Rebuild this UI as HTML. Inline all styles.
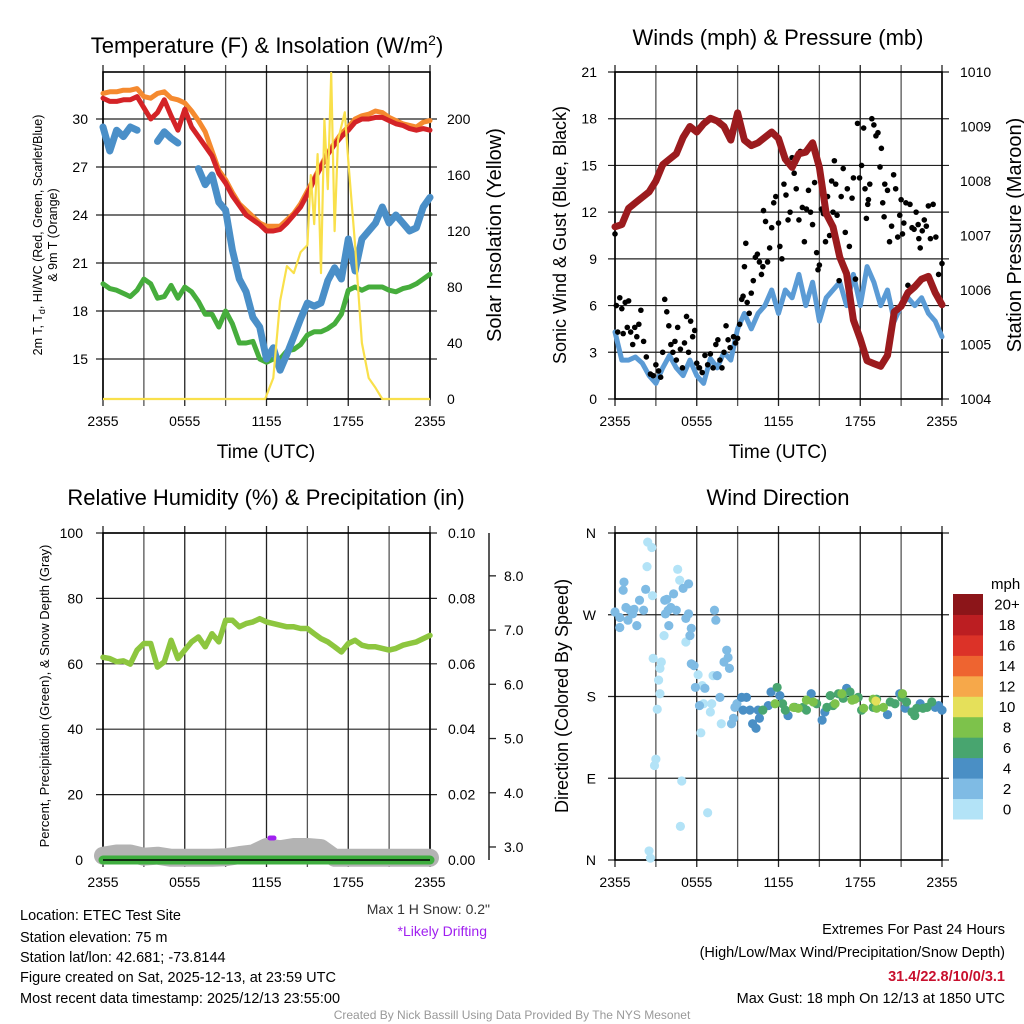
<!DOCTYPE html>
<html><head><meta charset="utf-8"><style>
html,body{margin:0;padding:0;background:#fff;}
svg{display:block;font-family:"Liberation Sans",sans-serif;}
</style></head><body>
<svg id="chart" width="1024" height="1024" viewBox="0 0 1024 1024" xmlns="http://www.w3.org/2000/svg">
<rect width="1024" height="1024" fill="#fff"/>
<g id="layers"></g>
<text x="267" y="53" font-size="22" text-anchor="middle">Temperature (F) &amp; Insolation (W/m<tspan dy="-8" font-size="14">2</tspan><tspan dy="8">)</tspan></text>
<text x="778" y="45" font-size="22" text-anchor="middle">Winds (mph) &amp; Pressure (mb)</text>
<text x="266" y="505" font-size="22" text-anchor="middle">Relative Humidity (%) &amp; Precipitation (in)</text>
<text x="778" y="505" font-size="22" text-anchor="middle">Wind Direction</text>
<text x="266" y="458" font-size="19" text-anchor="middle">Time (UTC)</text>
<text x="778" y="458" font-size="19" text-anchor="middle">Time (UTC)</text>
<text transform="translate(42,235) rotate(-90)" font-size="12.5" text-anchor="middle">2m T, T<tspan dy="3" font-size="9">d</tspan><tspan dy="-3">, HI/WC (Red, Green, Scarlet/Blue)</tspan></text>
<text transform="translate(57,235) rotate(-90)" font-size="12.5" text-anchor="middle">&amp; 9m T (Orange)</text>
<text transform="translate(501,235) rotate(-90)" font-size="20" text-anchor="middle">Solar Insolation (Yellow)</text>
<text transform="translate(566,235) rotate(-90)" font-size="18" text-anchor="middle">Sonic Wind &amp; Gust (Blue, Black)</text>
<text transform="translate(1021,235) rotate(-90)" font-size="20" text-anchor="middle">Station Pressure (Maroon)</text>
<text transform="translate(49,696) rotate(-90)" font-size="13" text-anchor="middle">Percent, Precipitation (Green), &amp; Snow Depth (Gray)</text>
<text transform="translate(568,696) rotate(-90)" font-size="18" text-anchor="middle">Direction (Colored By Speed)</text>
<text x="490" y="914" font-size="14" text-anchor="end" fill="#333">Max 1 H Snow: 0.2"</text>
<text x="487" y="936" font-size="14" text-anchor="end" fill="#a020f0">*Likely Drifting</text>
<g font-size="14.5">
<text x="20" y="920">Location: ETEC Test Site</text>
<text x="20" y="942">Station elevation: 75 m</text>
<text x="20" y="962">Station lat/lon: 42.681; -73.8144</text>
<text x="20" y="982">Figure created on Sat, 2025-12-13, at 23:59 UTC</text>
<text x="20" y="1003">Most recent data timestamp: 2025/12/13 23:55:00</text>
</g>
<g font-size="14.5" text-anchor="end">
<text x="1005" y="934">Extremes For Past 24 Hours</text>
<text x="1005" y="957">(High/Low/Max Wind/Precipitation/Snow Depth)</text>
<text x="1005" y="981" fill="#c8102e" font-weight="bold">31.4/22.8/10/0/3.1</text>
<text x="1005" y="1003">Max Gust: 18 mph On 12/13 at 1850 UTC</text>
</g>
<text x="512" y="1019" font-size="12" text-anchor="middle" fill="#999">Created By Nick Bassill Using Data Provided By The NYS Mesonet</text>
</svg>
<script>
const timeLabels = ["2355","0555","1155","1755","2355"];
const halfHours = [0,0.5,1,1.5,2,2.5,3,3.5,4,4.5,5,5.5,6,6.5,7,7.5,8,8.5,9,9.5,10,10.5,11,11.5,12,12.5,13,13.5,14,14.5,15,15.5,16,16.5,17,17.5,18,18.5,19,19.5,20,20.5,21,21.5,22,22.5,23,23.5,24];
const temp2m = [31.3,31.1,31.1,31.2,31.2,31.4,30.7,30.0,30.4,31.2,30.2,29.3,30.6,29.5,28.9,28.3,27.7,26.6,26.0,25.2,24.6,24.0,23.7,23.4,23.0,23.0,23.1,23.5,24.0,24.5,25.3,26.2,27.0,27.8,28.4,28.9,29.3,29.8,30.0,30.0,30.1,30.1,29.9,29.7,29.6,29.4,29.3,29.4,29.3];
const temp9m = [31.6,31.7,31.7,31.8,31.8,31.9,31.4,31.3,31.6,31.7,31.3,31.2,31.0,30.5,29.9,29.2,28.0,26.8,26.2,25.4,24.7,24.3,23.9,23.5,23.3,23.3,23.3,23.7,24.1,24.7,25.5,26.3,27.1,27.9,28.5,29.1,29.5,30.0,30.2,30.3,30.5,30.4,30.1,29.9,29.7,29.6,29.5,29.8,29.9];
const dewpoint = [29.5,28.0,29.3,28.9,29.5,29.3,null,null,28.6,29.2,28.8,28.5,null,null,26.9,25.9,26.5,24.8,24.3,21.8,20.0,19.2,17.6,17.0,15.0,15.7,14.3,15.3,16.4,17.5,18.5,18.3,18.5,19.9,20.7,20.0,22.5,20.5,22.5,23.0,23.5,24.5,23.5,24.0,23.5,23.0,23.2,24.5,25.1];
const windChill = [19.7,19.4,19.3,19.1,18.9,19.3,20.0,19.7,18.8,18.9,19.6,18.8,19.5,19.2,18.6,17.8,17.8,17.0,18.0,17.2,16.0,16.0,16.1,15.0,14.8,15.0,15.0,15.5,15.6,15.9,16.5,16.7,16.7,16.9,17.2,17.8,19.3,19.5,19.3,19.5,19.5,19.5,19.3,19.2,19.4,19.5,19.7,20.0,20.3];
const insolHours = [0,11.9,12.5,13,13.5,14,14.5,15,15.25,15.5,15.75,16,16.25,16.5,16.75,17,17.25,17.5,17.75,18,18.5,19,19.5,20,20.5,24];
const insolValues = [0,0,15,70,95,90,105,110,160,125,175,90,200,150,233,120,185,195,205,170,110,40,15,8,0,0];
const windSpeed = [4.3,2.5,2.5,2.7,2.3,1.5,1.0,2.0,2.8,2.0,1.5,2.5,1.5,1.0,2.6,2.0,3.0,2.5,4.5,5.5,4.5,5.5,6.0,7.0,5.5,7.0,6.5,8.0,6.0,7.5,5.0,6.5,7.0,7.5,6.0,8.0,6.0,8.5,7.5,6.0,7.0,5.0,6.0,6.5,6.0,6.5,5.5,5.0,4.0];
const pressure = [1007.16,1007.2,1007.5,1007.6,1007.7,1007.8,1008.0,1008.3,1008.4,1008.5,1008.8,1009.0,1008.9,1009.05,1009.15,1009.1,1009.0,1008.75,1009.25,1008.75,1008.65,1008.7,1008.8,1008.9,1008.78,1008.4,1008.25,1008.5,1008.53,1008.7,1008.25,1007.4,1007.16,1006.6,1006.3,1005.45,1005.1,1004.7,1004.65,1004.6,1004.8,1005.6,1005.7,1005.95,1006.06,1006.2,1006.25,1005.95,1005.73];
const gustHours = [0,0.1,0.2,0.35,0.5,0.6,0.75,0.9,1.0,1.15,1.3,1.45,1.6,1.75,1.9,2.1,2.3,2.6,2.8,3.0,3.2,3.35,3.5,3.65,3.8,3.95,4.1,4.25,4.4,4.5,4.6,4.8,4.95,5.1,5.25,5.4,5.55,5.7,5.85,6.0,6.2,6.4,6.6,6.8,7.0,7.2,7.4,7.55,7.7,7.85,8.0,8.15,8.3,8.45,8.7,8.85,9.0,9.15,9.3,9.4,9.5,9.6,9.7,9.85,10.0,10.15,10.3,10.45,10.6,10.75,10.85,10.9,11.05,11.2,11.35,11.5,11.65,11.8,12.0,12.1,12.25,12.4,12.55,12.7,12.85,13.0,13.15,13.3,13.5,13.6,13.75,13.9,14.05,14.2,14.35,14.5,14.65,14.8,14.9,15.0,15.15,15.3,15.45,15.6,15.75,15.9,16.0,16.1,16.2,16.3,16.45,16.6,16.75,16.9,17.05,17.2,17.4,17.5,17.65,17.8,17.95,18.1,18.25,18.35,18.45,18.55,18.6,18.7,18.85,19.0,19.15,19.3,19.45,19.55,19.65,19.75,19.8,20.0,20.15,20.3,20.45,20.6,20.75,20.9,21.0,21.1,21.2,21.35,21.5,21.65,21.8,21.95,22.1,22.25,22.3,22.4,22.55,22.7,22.85,23.0,23.15,23.35,23.55,23.75,24.0];
const gustValues = [10.6,6.0,4.3,6.5,5.8,4.2,6.2,4.6,6.3,4.3,3.5,4.6,4.0,4.8,5.7,3.7,2.7,1.6,1.5,2.2,1.8,1.4,3.0,6.4,5.6,4.7,3.5,3.0,3.7,2.5,4.6,3.2,2.0,3.6,5.3,3.0,5.0,4.0,4.4,2.3,2.0,1.7,2.8,2.2,2.9,2.0,3.5,3.8,2.5,2.0,3.0,4.7,3.8,3.3,4.0,3.6,3.9,4.8,6.4,6.6,8.5,10.0,6.2,5.5,6.8,7.6,9.1,9.3,8.8,8.0,8.5,12.1,11.4,8.8,9.7,11.0,12.6,13.0,11.3,9.8,9.0,13.8,13.1,11.5,12.0,15.5,14.5,13.5,11.5,15.9,12.3,10.1,12.2,13.4,12.0,11.2,13.9,9.4,8.3,8.6,12.2,11.9,10.1,13.0,10.5,14.0,12.0,15.3,13.8,11.8,7.6,13.0,14.8,10.7,13.5,9.8,12.9,14.2,7.7,17.7,14.2,15.0,17.4,13.5,11.6,12.5,12.8,13.8,18.0,17.6,16.9,17.1,14.9,16.1,12.6,11.7,13.8,13.4,10.1,11.1,14.4,13.5,10.4,11.8,12.8,10.6,11.3,12.6,7.3,12.5,11.0,10.9,12.0,11.2,10.3,9.7,10.8,11.5,11.1,12.4,10.3,12.5,10.4,8.0,8.7,9.1,6.9];
const humidity = [62,61.6,60.6,60.9,59.9,64.2,66.2,66.2,59,60.6,67.2,61.6,64.2,66.7,68.2,65.2,69.2,66.7,73.3,73.3,71.3,72.3,72.8,73.8,72.8,72.3,71.8,71.3,71.3,70.8,70.8,69.2,67.7,66.7,65.2,63.6,66.2,67.2,65.7,65.2,65.2,64.7,64.2,64.7,65.7,66.2,66.7,67.7,68.7];
const hours = [0,1,2,3,4,5,6,7,8,9,10,11,12,13,14,15,16,17,18,19,20,21,22,23,24];
const snowDepth = [2.84,2.88,2.88,2.82,2.84,2.8,2.8,2.8,2.8,2.81,2.85,2.88,3.0,2.96,3.0,3.0,2.98,2.8,2.8,2.8,2.8,2.8,2.8,2.8,2.8];
const precip = [0,0,0,0,0,0,0,0,0,0,0,0,0,0,0,0,0,0,0,0,0,0,0,0,0];
const dirHours = [0,0.35,0.66,0.6,0.8,1.1,1.4,1.8,2.1,2.25,0.35,1.6,0.95,1.3, 2.4,2.7,2.35,2.75,2.8,3.4,3.3,3.2,3.3,3.1,3.0,2.9,2.5,2.6,4.9,4.8,6.8,6.3,4.6,4.75,3.6,5.2,7.0,7.1,6.5,6.4,6.1,7.8,7.2, 3.65,3.8,3.9,4.1,4.3,4.5,3.7,3.95,5.0,5.4,5.2,5.4,5.6,5.5,5.6,5.8,5.9,6.2,6.6,7.7,7.3,7.4,7.5,8.2,8.3,8.0,8.4,8.55,8.7,8.8,8.95, 9.3,9.4,9.65,9.9,10.1,10.35,10.5,10.6,11.25,11.45,12.1,12.7,14.4,15.2,15.4,17.0,20.0,20.9,21.3,22.4,23.75,24.0,23.5, 10.85,11.9,12.3,12.5,13.2,13.8,14.05,14.8,15.55,15.8,16.0,16.4,16.75,17.25,17.85,18.1,18.95,19.2,20.2,20.55,21.05,21.4,21.8,22.0,22.15,22.6,22.9,23.25, 11.75,13.1,13.45,14.05,14.55,16.15,16.65,17.4,17.6,18.25,19.2,19.7,21.1,18.95, 19.15];
const dirDegrees = [273,267,306,297,278,275,276,286,275,298,256,258,264,271, 350,344,323,291,222,218,211,198,183,166,111,104,10,2,87,37,52,140,320,308,247,240,163,172,172,192,204,150,203, 286,287,275,278,293,275,271,258,299,304,266,271,255,247,216,214,190,170,189,179,275,264,203,231,223,218,211,150,156,168,172, 179,165,179,165,150,145,165,156,170,185,181,159,183,154,163,189,160,183,167,172,170,165,168, 165,190,172,165,168,168,165,172,168,181,170,183,178,185,179,165,168,177,174,172,179,174,163,159,167,167,168,174, 172,168,167,176,174,172,183,176,177,167,167,168,183,177, 175];
const dirSpeeds = [3,3,3,3,3,3,3,3,3,3,3,3,3,3, 1,1,1,1,1,1,1,1,1,1,1,1,1,1,1,1,1,1,1,1,1,1,1,1,1,1,1,1,1, 3,3,3,3,3,3,3,3,3,3,3,3,3,3,3,3,3,3,3,3,3,3,3,3,3,3,3,3,3,3,3, 5,5,5,5,5,5,5,5,5,5,5,5,5,5,5,5,5,5,5,5,5,5,5, 7,7,7,7,7,7,7,7,7,7,7,7,7,7,7,7,7,7,7,7,7,7,7,7,7,7,7,7, 9,9,9,9,9,9,9,9,9,9,9,9,9,9, 11];
const speedBinLabels = ["0","2","4","6","8","10","12","14","16","18","20+"];
const speedBinColors = ["#b3e3f7","#7fbbe4","#4a8fc5","#48a56f","#7dc24b","#e5e05a","#f6a84a","#ee6430","#dc3228","#bc1e22","#8c1519"];

const NS = "http://www.w3.org/2000/svg";
const root = document.getElementById("layers");
function mk(tag, attrs, parent){
  const e = document.createElementNS(NS, tag);
  for (const k in attrs) e.setAttribute(k, attrs[k]);
  (parent||root).appendChild(e);
  return e;
}
function txt(str, x, y, size, anchor, parent){
  const t = mk("text", {x:x, y:y, "font-size":size, "text-anchor":anchor}, parent);
  t.textContent = str;
  return t;
}
function panel(x0, x1, y0, y1){
  return {
    x0:x0, x1:x1, y0:y0, y1:y1,
    xs: h => x0 + (h/24)*(x1-x0),
    ys: (v, lo, hi) => y1 - (v-lo)/(hi-lo)*(y1-y0)
  };
}
function linePath(p, xsArr, ysArr, lo, hi){
  let d = "", pen = false;
  for (let i=0;i<xsArr.length;i++){
    const v = ysArr[i];
    if (v===null){ pen=false; continue; }
    d += (pen?"L":"M") + p.xs(xsArr[i]).toFixed(1) + "," + p.ys(v,lo,hi).toFixed(1);
    pen = true;
  }
  return d;
}
function frame(p, hLines, name){
  const g = mk("g", {});
  
  
  for (let i=0;i<=8;i++){
    const x = p.x0 + i*(p.x1-p.x0)/8;
    const l = mk("line", {x1:x, x2:x, y1:p.y0-7, y2:p.y1+7, stroke:(i%2?"#555":"#222"), "stroke-width":1.3}, g);
    
    
  }
  hLines.forEach(y => {
    const l = mk("line", {x1:p.x0-7, x2:p.x1+7, y1:y, y2:y, stroke:"#222", "stroke-width":1.2}, g);
    
    
  });
  const b = mk("rect", {x:p.x0, y:p.y0, width:p.x1-p.x0, height:p.y1-p.y0, fill:"none", stroke:"#000", "stroke-width":1.6}, g);
  
  
  const xl = mk("g", {}, g);
  
  
  timeLabels.forEach((s,i) => {
    const t = txt(s, p.x0 + i*(p.x1-p.x0)/4, p.y1+27, 14, "middle", xl);
    
    
  });
}
function tickSet(p, labels, values, lo, hi, x, anchor, name){
  const g = mk("g", {});
  
  
  labels.forEach((s,i) => {
    const y = p.ys(values[i], lo, hi);
    const t = txt(s, x, y+5, 14, anchor, g);
    
    
  });
  return g;
}

const p1 = panel(103, 430, 72, 399);
const T_LO = 12.5, T_HI = 32.94, S_LO = 0, S_HI = 233.7;
const tempTicks = [15,18,21,24,27,30];
frame(p1, tempTicks.map(v => p1.ys(v,T_LO,T_HI)), "temperature-panel");
tickSet(p1, tempTicks.map(String), tempTicks, T_LO, T_HI, 88, "end", "temperature-y-tick-labels");
const insTicks = [0,40,80,120,160,200];
tickSet(p1, insTicks.map(String), insTicks, S_LO, S_HI, 447, "start", "insolation-tick-labels");
let e;
e = mk("path", {d:linePath(p1, halfHours, windChill, T_LO, T_HI), fill:"none", stroke:"#46ad3c", "stroke-width":5, "stroke-linejoin":"round", "stroke-linecap":"round"});


e = mk("path", {d:linePath(p1, halfHours, dewpoint, T_LO, T_HI), fill:"none", stroke:"#4a8fc8", "stroke-width":7, "stroke-linejoin":"round", "stroke-linecap":"round"});


e = mk("path", {d:linePath(p1, halfHours, temp9m, T_LO, T_HI), fill:"none", stroke:"#f58a2f", "stroke-width":5, "stroke-linejoin":"round", "stroke-linecap":"round"});


e = mk("path", {d:linePath(p1, halfHours, temp2m, T_LO, T_HI), fill:"none", stroke:"#d42327", "stroke-width":5, "stroke-linejoin":"round", "stroke-linecap":"round"});


e = mk("path", {d:linePath(p1, insolHours, insolValues, S_LO, S_HI), fill:"none", stroke:"#f9e04b", "stroke-width":2.2, "stroke-linejoin":"round"});



const p2 = panel(615, 942, 72, 399);
const W_LO = 0, W_HI = 21, P_LO = 1004, P_HI = 1010;
const windTicks = [0,3,6,9,12,15,18,21];
frame(p2, windTicks.map(v => p2.ys(v,W_LO,W_HI)), "wind-panel");
tickSet(p2, windTicks.map(String), windTicks, W_LO, W_HI, 597, "end", "wind-y-tick-labels");
const presTicks = [1004,1005,1006,1007,1008,1009,1010];
tickSet(p2, presTicks.map(String), presTicks, P_LO, P_HI, 960, "start", "pressure-tick-labels");
e = mk("path", {d:linePath(p2, halfHours, windSpeed, W_LO, W_HI), fill:"none", stroke:"#5b9bd5", "stroke-width":5, "stroke-linejoin":"round", "stroke-linecap":"round"});


const gg = mk("g", {fill:"#000"});


gustHours.forEach((h,i) => {
  const c = mk("circle", {cx:p2.xs(h), cy:p2.ys(gustValues[i],W_LO,W_HI), r:2.8}, gg);
  
  
});
e = mk("path", {d:linePath(p2, halfHours, pressure, P_LO, P_HI), fill:"none", stroke:"#9b1b1e", "stroke-width":7, "stroke-linejoin":"round", "stroke-linecap":"round"});



const p3 = panel(103, 430, 533, 860);
const H_LO = 0, H_HI = 100, PR_LO = 0, PR_HI = 0.1;
const SN_LO = 2.76, SN_HI = 8.79;
const rhTicks = [0,20,40,60,80,100];
frame(p3, rhTicks.map(v => p3.ys(v,H_LO,H_HI)), "humidity-panel");
tickSet(p3, rhTicks.map(String), rhTicks, H_LO, H_HI, 83, "end", "humidity-y-tick-labels");
const prTicks = [0,0.02,0.04,0.06,0.08,0.1];
tickSet(p3, prTicks.map(v => v.toFixed(2)), prTicks, PR_LO, PR_HI, 448, "start", "precip-tick-labels");
const snTicks = [3,4,5,6,7,8];
e = mk("line", {x1:489, x2:489, y1:533, y2:860, stroke:"#222", "stroke-width":1.5});


const sg = tickSet(p3, snTicks.map(v => v.toFixed(1)), snTicks, SN_LO, SN_HI, 504, "start", "snow-depth-tick-labels");
snTicks.forEach(v => {
  const l = mk("line", {x1:489, x2:496, y1:p3.ys(v,SN_LO,SN_HI), y2:p3.ys(v,SN_LO,SN_HI), stroke:"#222", "stroke-width":1.3}, sg);
  
  
});
e = mk("path", {d:linePath(p3, hours, snowDepth, SN_LO, SN_HI), fill:"none", stroke:"#b3b3b3", "stroke-width":18, "stroke-linejoin":"round", "stroke-linecap":"round"});


e = mk("path", {d:linePath(p3, hours, precip, PR_LO, PR_HI), fill:"none", stroke:"#3fae3f", "stroke-width":9, "stroke-linecap":"round"});


e = mk("line", {x1:p3.x0, x2:p3.x1, y1:p3.y1, y2:p3.y1, stroke:"#000", "stroke-width":1.6});


e = mk("path", {d:linePath(p3, halfHours, humidity, H_LO, H_HI), fill:"none", stroke:"#8dc63f", "stroke-width":5.5, "stroke-linejoin":"round", "stroke-linecap":"round"});


e = mk("line", {x1:p3.xs(12.25), x2:p3.xs(12.55), y1:838, y2:838, stroke:"#a020f0", "stroke-width":5, "stroke-linecap":"round"});



const p4 = panel(615, 942, 533, 860);
const D_LO = 0, D_HI = 360;
const dirTickVals = [0,90,180,270,360];
const dirTickLabels = ["N","E","S","W","N"];
frame(p4, dirTickVals.map(v => p4.ys(v,D_LO,D_HI)), "direction-panel");
tickSet(p4, dirTickLabels, dirTickVals, D_LO, D_HI, 596, "end", "direction-y-tick-labels");
const dg = mk("g", {});


dirHours.forEach((h,i) => {
  const bin = Math.min(10, Math.floor(dirSpeeds[i]/2));
  const c = mk("circle", {cx:p4.xs(h), cy:p4.ys(dirDegrees[i],D_LO,D_HI), r:4.6, fill:speedBinColors[bin]}, dg);
  
  
});
const cb = mk("g", {});


const cbTop = 594, cbBot = 819, cbH = (cbBot-cbTop)/speedBinLabels.length;
const cbt = txt("mph", 991, 589, 15, "start", cb);


speedBinLabels.forEach((s,i) => {
  const j = speedBinLabels.length-1-i;
  const y = cbTop + j*cbH;
  const r = mk("rect", {x:953, y:y, width:30, height:cbH+0.5, fill:speedBinColors[i]}, cb);
  
  
  const t = txt(s, 1007, y+cbH/2+5.5, 15, "middle", cb);
  
  
});
</script>
</body></html>
